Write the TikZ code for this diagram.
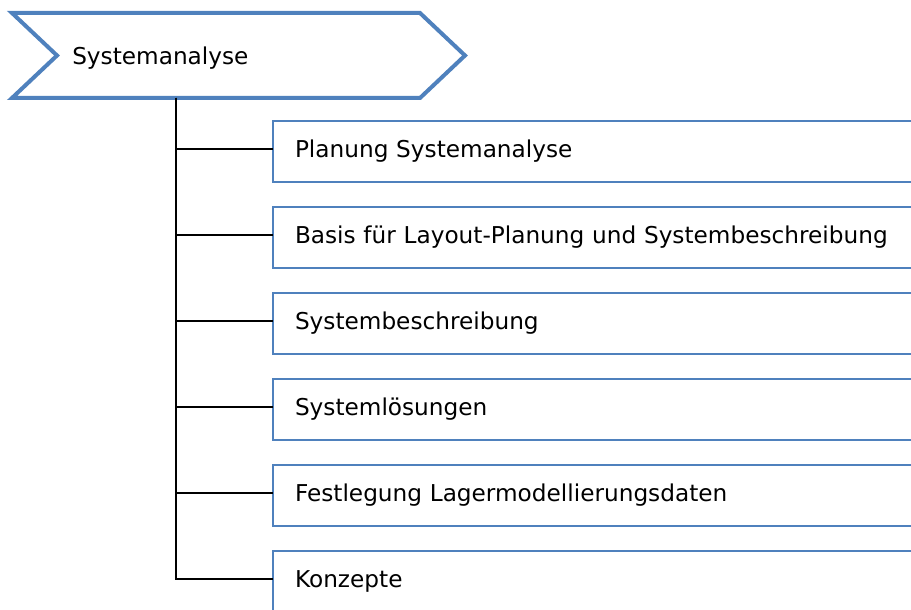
\documentclass[tikz,border=0pt]{standalone}
\usepackage{fontspec}
\setmainfont{DejaVu Sans}
\usepackage{xcolor}
\usetikzlibrary{positioning}
\definecolor{chevblue}{HTML}{4F81BD}

\begin{document}
\begin{tikzpicture}[x=0.75pt,y=-0.75pt]
		\tikzset{
			node distance=18.75pt and 18.75pt,
			head/.style={draw=none, anchor=west, font=\fontsize{17.4}{21}\selectfont, inner sep=0pt},
			stepbox/.style={rectangle, draw=chevblue, line width=1.1pt, fill=white, align=left,
			font=\fontsize{17.4}{21}\selectfont, text width=500pt, inner xsep=16.5pt,
			minimum height=45.75pt, outer sep=0pt, rounded corners=0pt},
			branch/.style={draw, black, line width=1pt}
		}
		\useasboundingbox (0,0) rectangle (911,610);
		\clip (0,0) rectangle (911,610);
		% chevron
		\draw[chevblue, line width=3pt, fill=white, line join=miter]
			(12,13) -- (420,13) -- (465,55.5) -- (420,98) -- (12,98) -- (57,55.5) -- cycle;
		\node[head](title) at (72,58){Systemanalyse};
		\coordinate (trunk) at (176,98);

		\node[stepbox, anchor=north west](plan) at (273,121){Planung Systemanalyse};
		\node[stepbox, below=of plan](basis){Basis für Layout-Planung und Systembeschreibung};
		\node[stepbox, below=of basis](desc){Systembeschreibung};
		\node[stepbox, below=of desc](solutions){Systemlösungen};
		\node[stepbox, below=of solutions](data){Festlegung Lagermodellierungsdaten};
		\node[stepbox, below=of data](concepts){Konzepte};

		\foreach \n in {plan, basis, desc, solutions, data, concepts}
			\draw[branch](trunk) |- ([yshift=1.9pt]\n.west);
\end{tikzpicture}
\end{document}
